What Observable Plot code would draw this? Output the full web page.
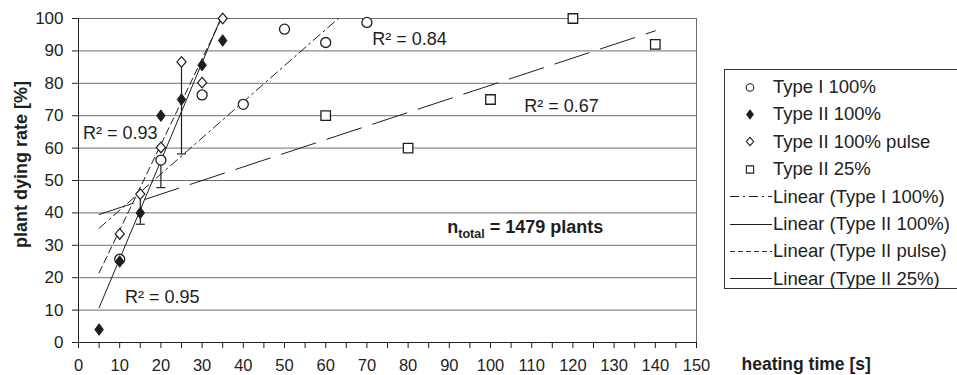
<!DOCTYPE html>
<html><head><meta charset="utf-8">
<script src="https://cdn.jsdelivr.net/npm/d3@7"></script>
<script src="https://cdn.jsdelivr.net/npm/@observablehq/plot@0.6"></script>
<style>
html,body{margin:0;padding:0;background:#fff;overflow:hidden;}
#wrap{position:relative;width:957px;height:375px;overflow:hidden;font-family:"Liberation Sans",Arial,sans-serif;}
#legend{position:absolute;left:724px;top:69px;width:262px;height:220px;border:1px solid #333;box-sizing:border-box;background:#fff;}
.row{position:absolute;left:0;height:27px;white-space:nowrap;font-size:18.5px;color:#222;}
.row svg{position:absolute;left:0;top:0;}
.row span{position:absolute;left:48px;top:50%;transform:translateY(-50%);line-height:1;}
</style></head><body><div id="wrap"></div>
<script>
// ---- data ----
const typeIX = [10, 20, 30, 40, 50, 60, 70];
const typeIY = [25.7, 56.3, 76.4, 73.5, 96.7, 92.6, 98.8];
const typeIIX = [5, 10, 15, 20, 25, 30, 35];
const typeIIY = [4, 25, 40, 70, 75, 85.6, 93.2];
const pulseX = [10, 15, 20, 25, 30, 35];
const pulseY = [33.5, 45.8, 60.2, 86.6, 80.2, 100];
const quarterX = [60, 80, 100, 120, 140];
const quarterY = [70, 60, 75, 100, 92];
const errX = [15, 20, 25];
const errHi = [45.8, 56.3, 86.6];
const errLo = [36.5, 47.8, 58.2];
const xTicks = d3.range(0, 151, 5);
const yTicks = d3.range(0, 101, 10);
const r2Text = ["R² = 0.84", "R² = 0.95", "R² = 0.93", "R² = 0.67"];
const r2X = [71.3, 11.3, 1.1, 108.2];
const r2Y = [93.6, 14.1, 64.5, 72.8];
const nMain = "n", nSub = "total", nRest = " = 1479 plants";
const nX = [89.5], nY = [35.7];
const xTitle = "heating time [s]";
const yTitle = "plant dying rate [%]";
const legendLabels = ["Type I 100%", "Type II 100%", "Type II 100% pulse", "Type II 25%",
  "Linear (Type I 100%)", "Linear (Type II 100%)", "Linear (Type II pulse)", "Linear (Type II 25%)"];

// ---- helpers ----
const toRows = (xs, ys) => xs.map((x, i) => ({x, y: ys[i]}));
const typeI = toRows(typeIX, typeIY), typeII = toRows(typeIIX, typeIIY);
const pulse = toRows(pulseX, pulseY), quarter = toRows(quarterX, quarterY);
const errs = errX.map((x, i) => ({x, hi: errHi[i], lo: errLo[i]}));
const xStart = d3.min([...typeIX, ...typeIIX, ...pulseX, ...quarterX]);
function trend(rows) {
  const mx = d3.mean(rows, d => d.x), my = d3.mean(rows, d => d.y);
  const b = d3.sum(rows, d => (d.x - mx) * (d.y - my)) / d3.sum(rows, d => (d.x - mx) ** 2);
  const a = my - b * mx;
  const xe = d3.max(rows, d => d.x);
  return [xStart, xe].map(x => ({x, y: a + b * x}));
}
const rOf = s => Math.sqrt(s / Math.PI);
const diamondFilled = {draw(c, s) {const r = rOf(s), w = r * 0.85, h = r * 1.15; c.moveTo(0, -h); c.lineTo(w, 0); c.lineTo(0, h); c.lineTo(-w, 0); c.closePath();}};
const diamondOpen = {draw(c, s) {const r = rOf(s), w = r * 0.95, h = r * 1.1; c.moveTo(0, -h); c.lineTo(w, 0); c.lineTo(0, h); c.lineTo(-w, 0); c.closePath();}};
const squareSym = {draw(c, s) {const r = rOf(s) * 0.95; c.rect(-r, -r, 2 * r, 2 * r);}};
const capSym = {draw(c, s) {const r = rOf(s); c.moveTo(-r, 0); c.lineTo(r, 0);}};

const ink = "#1e1e1e";
const styles = {
  typeI: {dash: "9,4,2,4"}, typeII: {dash: null}, pulse: {dash: "7,4"}, quarter: {dash: "36,12"}
};

const plot = Plot.plot({
  width: 957, height: 375,
  marginLeft: 78, marginRight: 261, marginTop: 18, marginBottom: 33,
  x: {domain: [0, 150]},
  y: {domain: [0, 100]},
  style: {fontFamily: "'Liberation Sans', Arial, sans-serif", fontSize: "17px", color: ink, background: "white", overflow: "visible"},
  marks: [
    Plot.ruleY(yTicks.filter(d => d > 0), {stroke: "#6e6e6e", strokeWidth: 1}),
    Plot.ruleX([150], {stroke: "#6e6e6e"}),
    Plot.axisX({ticks: xTicks, tickSize: 6, tickPadding: 11, fontSize: 16.5, tickFormat: d => d % 10 === 0 ? d : "", label: null}),
    Plot.axisY({ticks: yTicks, tickSize: 6, tickPadding: 9, label: null}),
    Plot.ruleX([0], {stroke: ink}),
    Plot.ruleY([0], {stroke: ink}),
    Plot.line(trend(typeI), {x: "x", y: "y", stroke: ink, strokeWidth: 1, strokeDasharray: styles.typeI.dash, clip: true}),
    Plot.line(trend(typeII), {x: "x", y: "y", stroke: ink, strokeWidth: 1, clip: true}),
    Plot.line(trend(pulse), {x: "x", y: "y", stroke: ink, strokeWidth: 1, strokeDasharray: styles.pulse.dash, clip: true}),
    Plot.line(trend(quarter), {x: "x", y: "y", stroke: ink, strokeWidth: 1, strokeDasharray: styles.quarter.dash, clip: true}),
    Plot.ruleX(errs, {x: "x", y1: "lo", y2: "hi", stroke: ink, strokeWidth: 1.2}),
    Plot.dot(errs, {x: "x", y: "lo", symbol: capSym, r: 4.5, stroke: ink, strokeWidth: 1.2}),
    Plot.dot(quarter, {x: "x", y: "y", symbol: squareSym, r: 5, stroke: ink, strokeWidth: 1.3, fill: "white"}),
    Plot.dot(typeI, {x: "x", y: "y", r: 5, stroke: ink, strokeWidth: 1.3, fill: "white"}),
    Plot.dot(typeII, {x: "x", y: "y", symbol: diamondFilled, r: 5, stroke: ink, strokeWidth: 1, fill: ink}),
    Plot.dot(pulse, {x: "x", y: "y", symbol: diamondOpen, r: 4.8, stroke: ink, strokeWidth: 1.2, fill: "white"}),
    Plot.text(r2Text, {x: (d, i) => r2X[i], y: (d, i) => r2Y[i], text: d => d, textAnchor: "start", lineAnchor: "middle", fontSize: 18, fill: ink}),
    Plot.text([nMain + nSub + nRest], {x: () => nX[0], y: () => nY[0], text: d => d, textAnchor: "start", lineAnchor: "middle", fontSize: 18, fontWeight: "bold", fill: ink}),
    Plot.text([xTitle], {frameAnchor: "bottom-right", text: d => d, textAnchor: "start", lineAnchor: "middle", dx: 45, dy: 22, fontSize: 17.5, fontWeight: "bold", fill: ink}),
    Plot.text([yTitle], {frameAnchor: "left", text: d => d, rotate: -90, textAnchor: "middle", lineAnchor: "middle", dx: -57, dy: -16, fontSize: 18, fontWeight: "bold", fill: ink})
  ]
});

// subscript for n_total
d3.select(plot).selectAll("text").filter(function () {return this.textContent === nMain + nSub + nRest;}).each(function () {
  const t = d3.select(this);
  t.text(null);
  t.append("tspan").text(nMain);
  t.append("tspan").attr("font-size", 12.5).attr("dy", 5).text(nSub);
  t.append("tspan").attr("dy", -5).text(nRest);
});

const wrap = document.getElementById("wrap");
wrap.appendChild(plot);

// legend
const legend = d3.select(wrap).append("div").attr("id", "legend");
const samples = [
  {kind: "dot", sym: d3.symbolCircle, fill: "white"},
  {kind: "dot", sym: diamondFilled, fill: ink},
  {kind: "dot", sym: diamondOpen, fill: "white"},
  {kind: "dot", sym: squareSym, fill: "white"},
  {kind: "line", dash: styles.typeI.dash},
  {kind: "line", dash: styles.typeII.dash},
  {kind: "line", dash: "5,3"},
  {kind: "line", dash: null}
];
legendLabels.forEach((lab, i) => {
  const row = legend.append("div").attr("class", "row").style("top", (17 + i * 27.4 - 13.5) + "px").style("width", "260px");
  const svg = row.append("svg").attr("width", 48).attr("height", 27);
  const s = samples[i];
  if (s.kind === "dot") {
    svg.append("path").attr("transform", "translate(25,13.5)")
      .attr("d", d3.symbol(s.sym, Math.PI * 3.8 * 3.8)())
      .attr("fill", s.fill).attr("stroke", ink).attr("stroke-width", 1.1);
  } else {
    svg.append("line").attr("x1", 5).attr("x2", 47).attr("y1", 13.5).attr("y2", 13.5)
      .attr("stroke", ink).attr("stroke-width", 1).attr("stroke-dasharray", s.dash);
  }
  row.append("span").text(lab);
});
</script></body></html>
